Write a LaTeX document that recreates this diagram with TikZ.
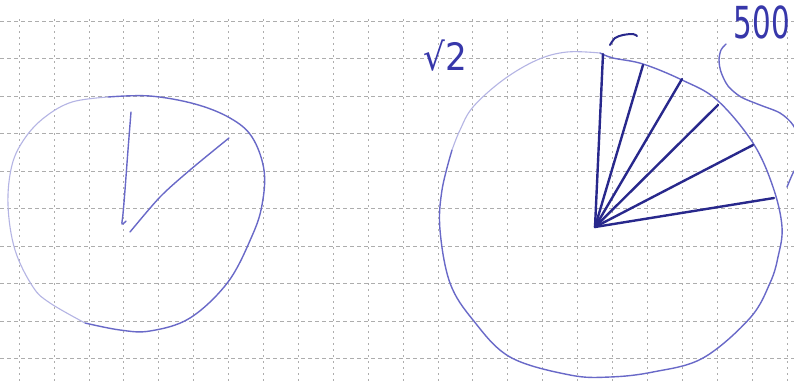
\documentclass[tikz,border=0pt]{standalone}
\usepackage{fontspec}
\newfontfamily\handfont{DejaVu Sans}
\begin{document}
\begin{tikzpicture}[x=1pt,y=-1pt,
  gridh/.style={draw=black!32,line width=0.55pt,dash pattern=on 4pt off 3pt},
  gridv/.style={draw=black!32,line width=0.55pt,dash pattern=on 2pt off 4pt},
  inkmid/.style={draw={rgb,255:red,105;green,105;blue,200},line width=1.4pt,line cap=round,line join=round},
  inkfaint/.style={draw={rgb,255:red,180;green,180;blue,228},line width=1.1pt,line cap=round},
  inkdark/.style={draw={rgb,255:red,40;green,40;blue,140},line width=2.4pt,line cap=round},
  inktext/.style={text={rgb,255:red,55;green,55;blue,170},inner sep=0pt}]
\useasboundingbox (0,0) rectangle (794,383);
\clip (0,0) rectangle (794,383);
\fill[white] (0,0) rectangle (794,383);
% grid paper
\foreach \k in {0,...,9} {
  \draw[gridh] (0,{21+37.5*\k}) -- (794,{21+37.5*\k});
}
\foreach \k in {0,...,22} {
  \draw[gridv] ({19+34.9*\k},19) -- ({19+34.9*\k},383);
}
% left figure: circle
\draw[inkmid] plot[smooth,tension=0.6] coordinates {(108,97) (150,96) (195,104) (230,118) (252,137) (264,170) (262,205) (252,236) (228,282) (190,318) (150,331) (120,330) (85,323)};
\draw[inkfaint] plot[smooth,tension=0.6] coordinates {(85,323) (50,303) (33,287) (15,250) (8,205) (12,165) (25,138) (45,117) (72,102) (108,97)};
% left figure: lines
\draw[inkmid] plot[smooth] coordinates {(131,112) (128,150) (125,190) (123,214) (122,224) (126,221)};
\draw[inkmid] plot[smooth] coordinates {(130,232) (160,197) (190,170) (229,138)};
% big circle
\draw[inkmid] plot[smooth,tension=0.6] coordinates {(600,53) (613,58) (643,64) (682,80) (717,100) (753,143) (773,187) (782,227) (778,257) (770,283) (750,318) (703,358) (653,372) (610,377) (570,375) (510,357) (473,320) (450,283) (440,230) (442,190) (452,150)};
\draw[inkfaint] plot[smooth,tension=0.6] coordinates {(452,150) (460,130) (473,107) (503,80) (537,60) (567,52) (600,53)};
% spokes
\coordinate (c) at (595,227);
\foreach \p in {(603,54),(643,65),(682,79),(718,105),(753,145),(774,198)} {
  \draw[inkdark] (c) -- \p;
}
% small arc above
\draw[inkdark,line width=2pt] plot[smooth] coordinates {(610,45) (615,38) (623,35) (633,34) (637,36)};
% brace
\draw[inkmid] plot[smooth] coordinates {(726,44) (721,50) (719,60) (721,72) (728,86) (741,97) (760,105) (780,113) (793,125) (801,145) (799,163) (793,173) (787,187)};
% texts
\node[inktext,font=\handfont\fontsize{36}{36}\selectfont,xscale=0.95,yscale=1.05] (sq) at (445,56) {√2};
\node[inktext,font=\handfont\fontsize{42}{42}\selectfont,xscale=0.7,yscale=1.05] (five) at (762,22) {500};
\end{tikzpicture}
\end{document}
